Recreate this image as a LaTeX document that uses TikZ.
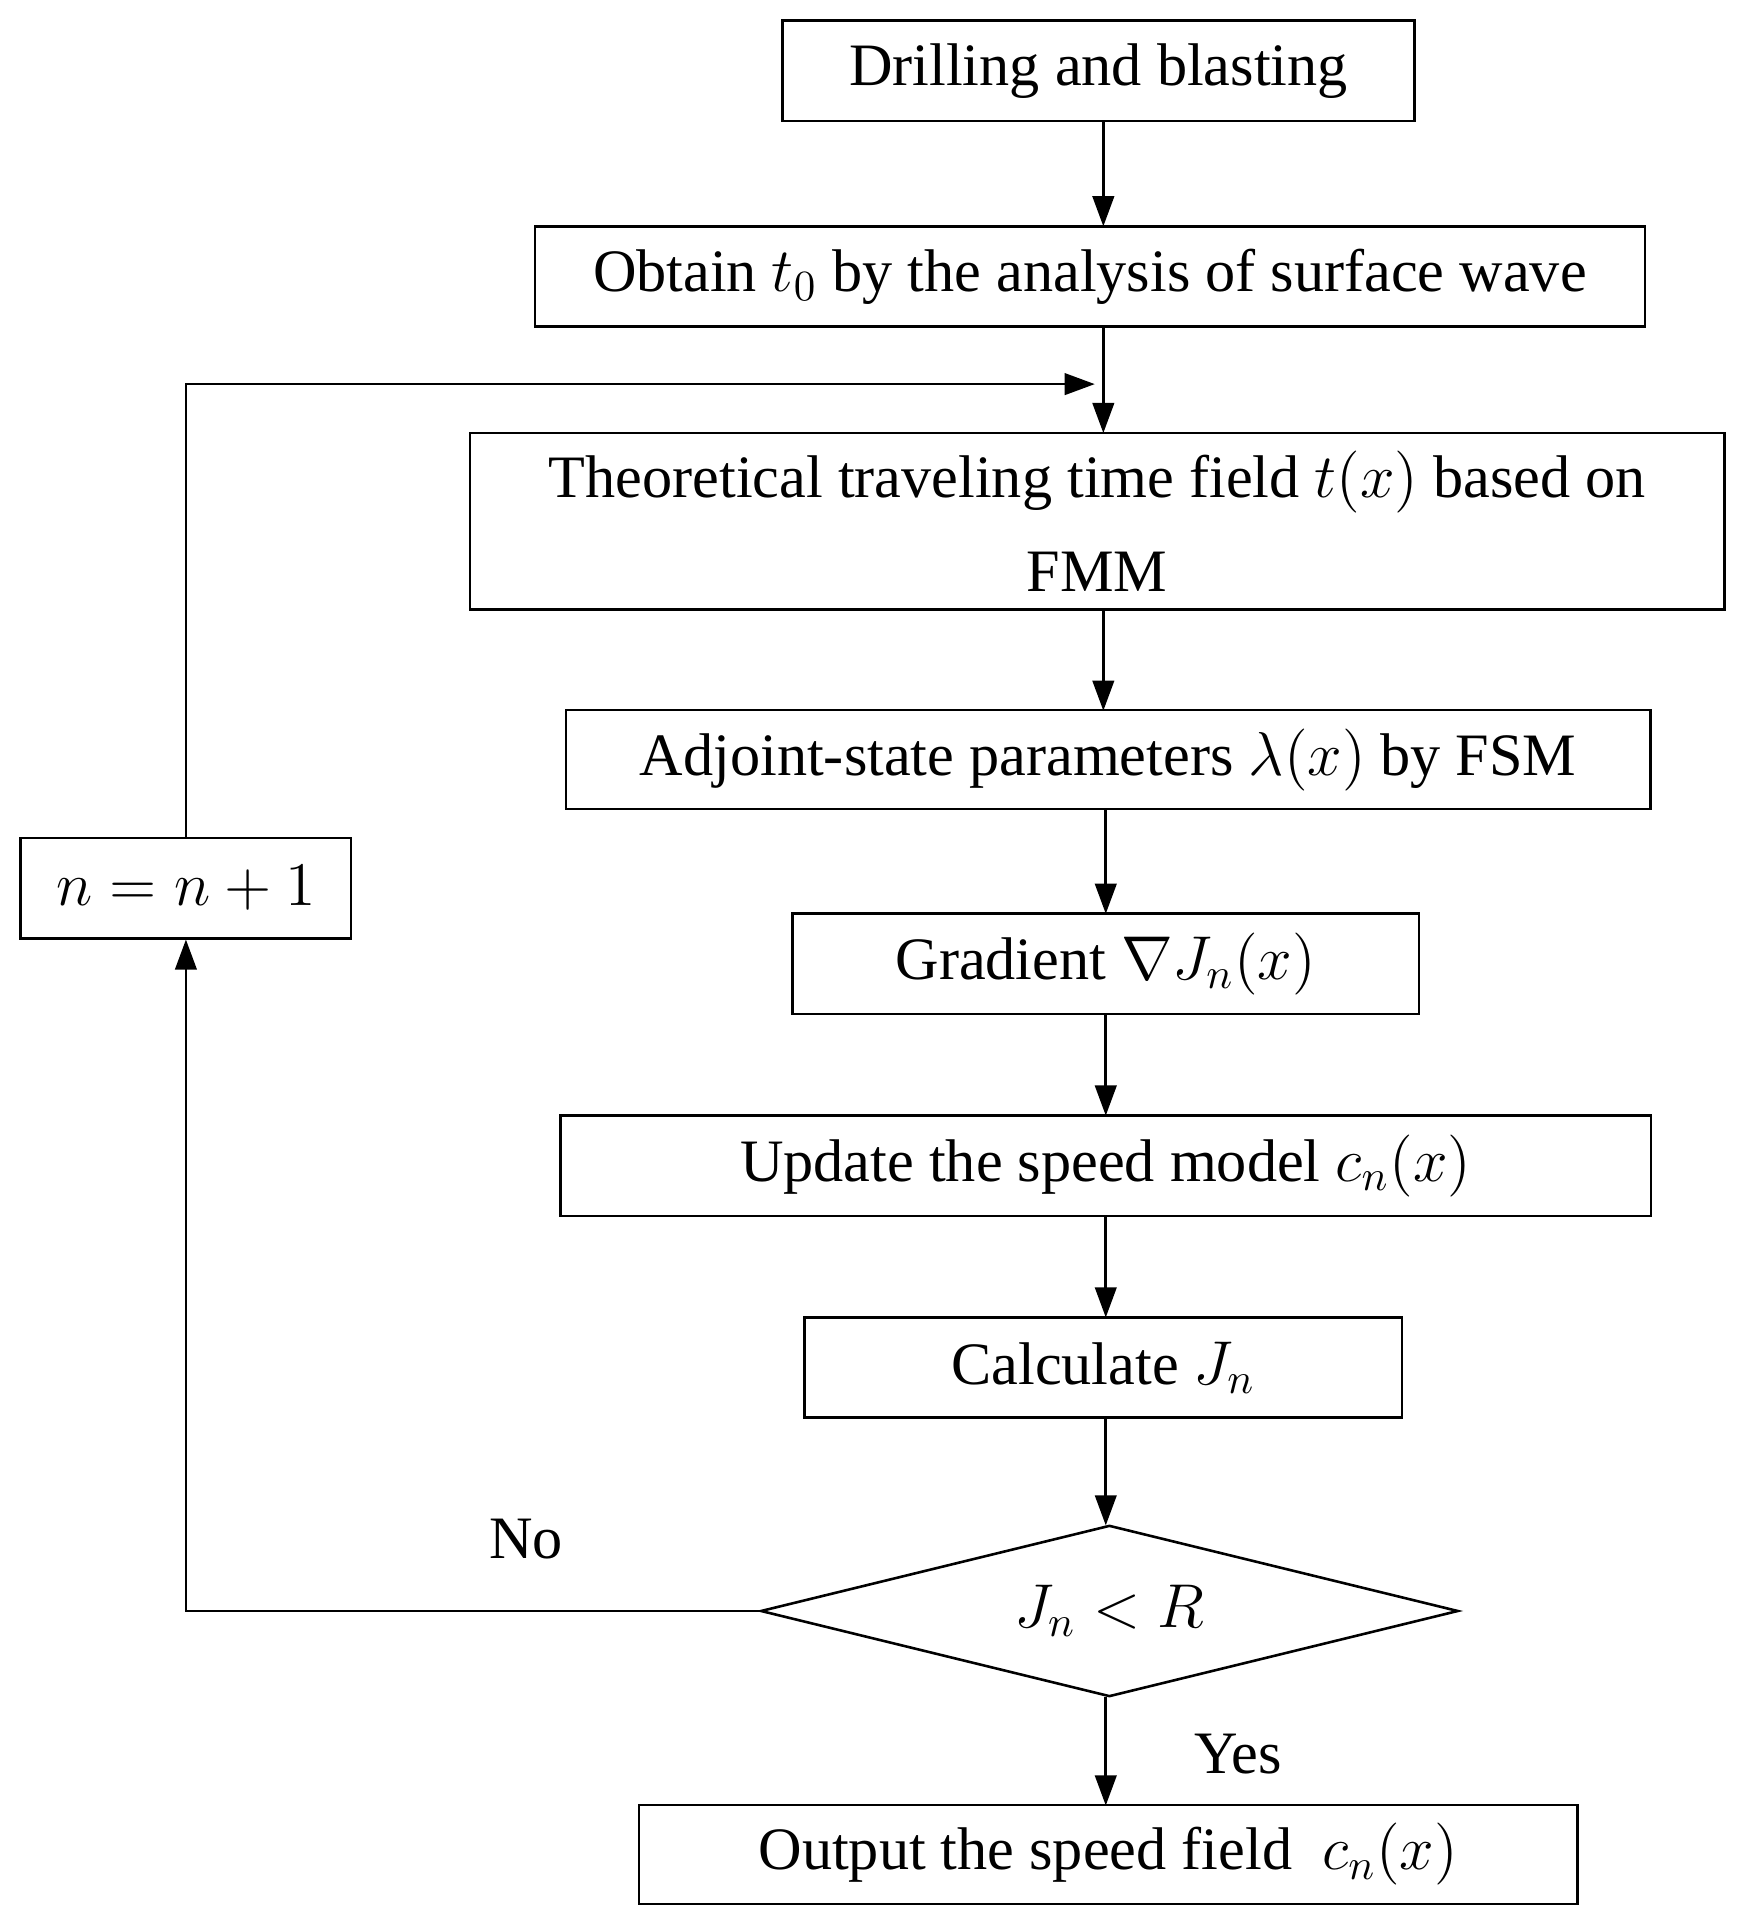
\documentclass[tikz,border=0pt]{standalone}
\usepackage{fontspec}
\setmainfont{Liberation Serif}
\usetikzlibrary{shapes.geometric,arrows.meta}
\begin{document}
\begin{tikzpicture}[x=0.01cm,y=-0.01cm,
  box/.style={draw,line width=0.6pt,inner sep=0pt,align=center,font=\fontsize{14}{22}\selectfont},
  arr/.style={-{Triangle[length=7pt,width=5pt]},line width=0.6pt},
  lbl/.style={font=\fontsize{14}{17}\selectfont}]
\useasboundingbox (0,0) rectangle (1421,1568);
\node[box,minimum width=5.16cm,minimum height=0.82cm] (a) at (898,58) {Drilling and blasting};
\node[box,minimum width=9.07cm,minimum height=0.82cm] (b) at (891,226) {Obtain $t_0$ by the analysis of surface wave};
\node[box,minimum width=10.25cm,minimum height=1.44cm] (c) at (897,426) {Theoretical traveling time field $t(x)$ based on\\FMM};
\node[box,minimum width=8.86cm,minimum height=0.81cm] (d) at (906,621) {Adjoint-state parameters $\lambda(x)$ by FSM};
\node[box,minimum width=5.12cm,minimum height=0.82cm] (e) at (904,788) {Gradient $\nabla J_n(x)$};
\node[box,minimum width=8.91cm,minimum height=0.82cm] (f) at (904,953) {Update the speed model $c_n(x)$};
\node[box,minimum width=4.88cm,minimum height=0.82cm] (g) at (902,1118) {Calculate $J_n$};
\node[box,diamond,aspect=4.07,minimum width=5.7cm,minimum height=1.4cm] (h) at (907,1317) {$J_n<R$};
\node[box,minimum width=7.67cm,minimum height=0.81cm] (i) at (906,1516) {Output the speed field~~$c_n(x)$};
\node[box,minimum width=2.70cm,minimum height=0.82cm] (n) at (152,726) {$n=n+1$};
\coordinate (m) at (902,314);
\draw[arr] (902,99) -- (902,185);
\draw[arr] (902,267) -- (902,354);
\draw[arr] (902,498) -- (902,581);
\draw[arr] (904,662) -- (904,747);
\draw[arr] (904,829) -- (904,912);
\draw[arr] (904,994) -- (904,1077);
\draw[arr] (904,1159) -- (904,1247);
\draw[arr] (904,1387) -- (904,1476);
\draw[arr] (h.west) -| (n.south);
\draw[arr] (n.north) |- (895,314);
\node[lbl] (no) at (430,1258) {No};
\node[lbl] (yes) at (1012,1434) {Yes};
\end{tikzpicture}
\end{document}
